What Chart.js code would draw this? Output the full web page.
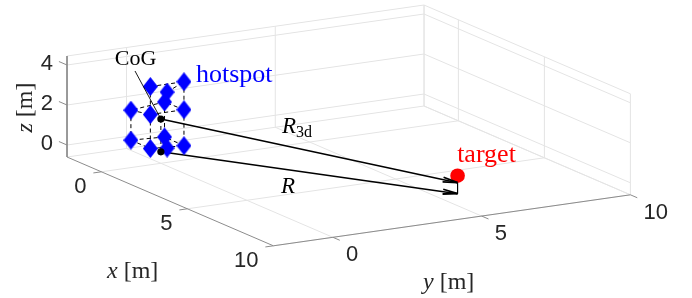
<!DOCTYPE html>
<html>
<head>
<meta charset="utf-8">
<script src="https://cdn.jsdelivr.net/npm/chart.js@4.4.0/dist/chart.umd.min.js"></script>
<style>
html,body{margin:0;padding:0;background:#fff;overflow:hidden}
canvas{display:block}
</style>
</head>
<body>
<canvas id="chart" width="692" height="298"></canvas>
<script>

// ---------------------
// Data (metres)
// ---------------------

const xLim=[-2,10], yLim=[-2,10], zLim=[-0.6,4.45];
const xTicks=[0,5,10], yTicks=[0,5,10], zTicks=[0,2,4];

// hotspot points
const hotX=[0.58,0.58,-0.4,-0.55,0.58,-0.55,0.58,-0.55,0.58,-0.55,-0.4,0.58];
const hotY=[-0.69,0.44,0.44,-0.69,-0.69,0.44,0.44,-0.69,-0.69,0.44,0.44,0.44];
const hotZ=[3.6,3.6,2.72,2.0,2.2,2.17,2.2,0.5,0.5,0.42,-0.08,0.4];
// dashed outline between hotspot points (index pairs)
const hotEdges=[[3,7],[0,4],[4,8],[1,6],[6,11],[5,9],[2,5],[9,10],
                [3,4],[4,6],[6,5],[5,3],[7,8],[8,11],[11,9],[9,7],[0,1],[2,1]];

const cog=[0.05,-0.03,1.64];
const groundZ=0;
const target=[8.6,5.0,0.9];
const arrowTipZ=0.55;

// ---------------------
// View (orthographic projection)
// ---------------------

const view={ox:67, oy:157, ex:[17.2,7.4], ey:[29.75,-4.25], ez:[0,-20]};

function P(x,y,z){
    const a=x-xLim[0], b=y-yLim[0], c=z-zLim[0];
    return {
        x: view.ox+a*view.ex[0]+b*view.ey[0]+c*view.ez[0],
        y: view.oy+a*view.ex[1]+b*view.ey[1]+c*view.ez[1]
    };
}

function line(pts,style){
    return Object.assign({
        data: pts.map(p=>P(p[0],p[1],p[2])),
        showLine:true, pointRadius:0, borderWidth:1, fill:false
    },style);
}

const gridColor="#e4e4e4", axisColor="#8c8c8c";
const datasets=[];

// grid on back walls and floor
const [x0,x1]=xLim, [y0,y1]=yLim, [z0,z1]=zLim;
zTicks.forEach(z=>datasets.push(line([[x0,y0,z],[x0,y1,z],[x1,y1,z]],{borderColor:gridColor,order:20})));
yTicks.forEach(y=>datasets.push(line([[x1,y,z0],[x0,y,z0],[x0,y,z1]],{borderColor:gridColor,order:20})));
xTicks.forEach(x=>datasets.push(line([[x,y0,z0],[x,y1,z0],[x,y1,z1]],{borderColor:gridColor,order:20})));
datasets.push(line([[x0,y0,z1],[x0,y1,z1],[x1,y1,z1]],{borderColor:gridColor,order:20}));
datasets.push(line([[x0,y0,z0],[x0,y1,z0],[x1,y1,z0]],{borderColor:gridColor,order:20}));
datasets.push(line([[x0,y1,z0],[x0,y1,z1]],{borderColor:gridColor,order:20}));

// axis lines and tick marks
datasets.push(line([[x0,y0,z1],[x0,y0,z0],[x1,y0,z0],[x1,y1,z0]],{borderColor:axisColor,order:15}));
zTicks.forEach(z=>datasets.push(line([[x0,y0,z],[x0-0.47,y0,z]],{borderColor:axisColor,order:15})));
xTicks.forEach(x=>datasets.push(line([[x,y0,z0],[x,y0-0.27,z0]],{borderColor:axisColor,order:15})));
yTicks.forEach(y=>datasets.push(line([[x1,y,z0],[x1+0.4,y,z0]],{borderColor:axisColor,order:15})));

// hotspot outline
hotEdges.forEach(([i,j])=>datasets.push(line(
    [[hotX[i],hotY[i],hotZ[i]],[hotX[j],hotY[j],hotZ[j]]],
    {borderColor:"#000",borderDash:[4,3],order:10})));

// vertical drops
datasets.push(line([cog,[cog[0],cog[1],groundZ]],{borderColor:"#000",borderDash:[4,3],order:9}));
datasets.push(line([[target[0],target[1],arrowTipZ],[target[0],target[1],groundZ]],{borderColor:"#000",order:9}));

// distances
datasets.push(line([cog,[target[0],target[1],arrowTipZ]],{borderColor:"#000",borderWidth:1.6,arrow:true,order:8}));
datasets.push(line([[cog[0],cog[1],groundZ],[target[0],target[1],groundZ]],{borderColor:"#000",borderWidth:1.6,arrow:true,order:8}));

// markers
function diamond(w,h,color){
    const c=document.createElement("canvas");
    c.width=w; c.height=h;
    const g=c.getContext("2d");
    g.fillStyle=color;
    g.beginPath();
    g.moveTo(w/2,0); g.lineTo(w,h/2); g.lineTo(w/2,h); g.lineTo(0,h/2);
    g.closePath(); g.fill();
    return c;
}

datasets.push({
    data: hotX.map((x,i)=>P(x,hotY[i],hotZ[i])),
    pointStyle: diamond(15,19,"#0000ff"),
    pointRadius:9, showLine:false, order:5
});
datasets.push({
    data:[P(cog[0],cog[1],cog[2]),P(cog[0],cog[1],groundZ)],
    pointRadius:3.6, backgroundColor:"#000", borderWidth:0, showLine:false, order:4
});
datasets.push({
    data:[P(target[0],target[1],target[2])],
    pointRadius:7.3, backgroundColor:"#ff0000", borderWidth:0, showLine:false, order:3
});

// ---------------------
// Labels, ticks, arrowheads
// ---------------------

const serif="Liberation Serif", sans="Liberation Sans";

function mixed(ctx,parts,x,y,align){
    let w=0;
    parts.forEach(p=>{ctx.font=p[1]; w+=ctx.measureText(p[0]).width;});
    let cx = align==="center" ? x-w/2 : x;
    ctx.textAlign="left";
    parts.forEach(p=>{
        ctx.font=p[1];
        ctx.fillText(p[0],cx,y+(p[2]||0));
        cx+=ctx.measureText(p[0]).width;
    });
}

const decor={
    id:"decor",
    afterDatasetsDraw(chart){
        const ctx=chart.ctx;
        ctx.save();

        // arrowheads
        chart.data.datasets.forEach((ds,i)=>{
            if(!ds.arrow) return;
            const pts=chart.getDatasetMeta(i).data;
            const a=pts[0], b=pts[pts.length-1];
            const ang=Math.atan2(b.y-a.y,b.x-a.x);
            ctx.strokeStyle="#000"; ctx.lineWidth=1.8;
            [-0.16,0.16].forEach(d=>{
                ctx.beginPath();
                ctx.moveTo(b.x,b.y);
                ctx.lineTo(b.x-15*Math.cos(ang+d),b.y-15*Math.sin(ang+d));
                ctx.stroke();
            });
        });

        // tick labels
        ctx.fillStyle="#262626";
        ctx.font="22px "+sans;
        ctx.textBaseline="middle";
        ctx.textAlign="right";
        zTicks.forEach(z=>{const p=P(x0,y0,z); ctx.fillText(String(z),p.x-14,p.y-1);});
        xTicks.forEach(x=>{const p=P(x,y0,z0); ctx.fillText(String(x),p.x-15,p.y+15);});
        ctx.textAlign="left";
        yTicks.forEach(y=>{const p=P(x1,y,z0); ctx.fillText(String(y),p.x+13,p.y+18);});

        // axis labels
        ctx.textBaseline="alphabetic";
        mixed(ctx,[["x","italic 24px "+serif],[" [m]","24px "+serif]],107,278,"left");
        mixed(ctx,[["y","italic 24px "+serif],[" [m]","24px "+serif]],423,289,"left");
        ctx.save();
        ctx.translate(32,107.5);
        ctx.rotate(-Math.PI/2);
        mixed(ctx,[["z","italic 24px "+serif],[" [m]","24px "+serif]],0,0,"center");
        ctx.restore();

        // annotations
        ctx.fillStyle="#000";
        mixed(ctx,[["CoG","22px "+serif]],135.5,65,"center");
        const c=P(cog[0],cog[1],cog[2]);
        ctx.strokeStyle="#000"; ctx.lineWidth=0.9;
        ctx.beginPath(); ctx.moveTo(135,71); ctx.lineTo(c.x,c.y); ctx.stroke();

        mixed(ctx,[["R","italic 23px "+serif],["3d","16px "+serif,4]],282,133,"left");
        mixed(ctx,[["R","italic 23px "+serif]],281,193,"left");

        ctx.fillStyle="#0000ff";
        mixed(ctx,[["hotspot","26px "+serif]],196,82,"left");
        ctx.fillStyle="#ff0000";
        mixed(ctx,[["target","26px "+serif]],486.5,162,"center");

        ctx.restore();
    }
};

new Chart(document.getElementById("chart"),{
    type:"scatter",
    data:{datasets:datasets},
    options:{
        responsive:false,
        animation:false,
        events:[],
        layout:{padding:0,autoPadding:false},
        plugins:{legend:{display:false},tooltip:{enabled:false}},
        scales:{
            x:{type:"linear",min:0,max:692,display:false},
            y:{type:"linear",min:0,max:298,reverse:true,display:false}
        }
    },
    plugins:[decor]
});

</script>
</body>
</html>
